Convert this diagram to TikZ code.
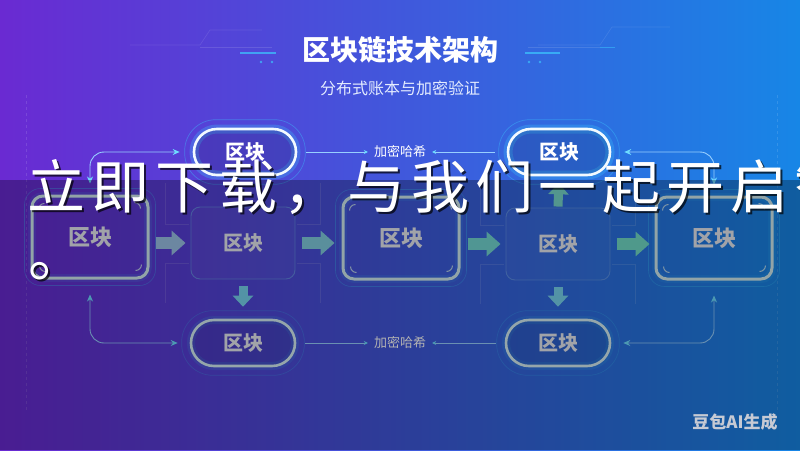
\documentclass[tikz,border=0pt]{standalone}
\usepackage{fontspec}
\setmainfont{Noto Sans CJK SC}
\usetikzlibrary{arrows.meta,calc}
\definecolor{bgL}{HTML}{6A2AD2}
\definecolor{bgM}{HTML}{3A58DE}
\definecolor{bgR}{HTML}{1786E6}
\definecolor{hiB}{HTML}{D2ECF0}
\definecolor{boxT}{HTML}{E8EAF2}
\definecolor{plainB}{HTML}{6A9CE8}
\definecolor{pillT}{HTML}{F2FAFF}
\definecolor{pillB}{HTML}{D6EEF4}
\definecolor{glowC}{HTML}{3CC8FF}
\definecolor{connC}{HTML}{98CFFF}
\definecolor{tipC}{HTML}{6EDCFF}
\definecolor{aA}{HTML}{9CC2E8}
\definecolor{aB}{HTML}{82CEE0}
\definecolor{aC}{HTML}{74D8D4}
\definecolor{aD}{HTML}{72DCC8}
\definecolor{aDn}{HTML}{78D4EE}
\definecolor{aUp}{HTML}{78D8CC}
\definecolor{wmC}{HTML}{C6CAD4}
\definecolor{subC}{HTML}{E4ECFF}
\newcommand\cornerticks[1]{%
  \draw[tick] ($(#1.north west)+(8pt,-15pt)$) arc[start angle=180,end angle=90,radius=6pt];
  \draw[tick] ($(#1.north east)+(-15pt,-8pt)$) arc[start angle=90,end angle=0,radius=6pt];
  \draw[tick] ($(#1.south east)+(-8pt,15pt)$) arc[start angle=0,end angle=-90,radius=6pt];
  \draw[tick] ($(#1.south west)+(15pt,8pt)$) arc[start angle=270,end angle=180,radius=6pt];
  \draw[ringst] ($(#1.north west)+(-6pt,6pt)$) rectangle ($(#1.south east)+(6pt,-6pt)$);}
\newcommand\framelines[1]{%
  \draw[faint] ($(#1.north west)+(-25pt,24pt)$) -- ($(#1.north west)+(-25pt,-18pt)$) -- ($(#1.north west)+(-2pt,-18pt)$);
  \draw[faint] ($(#1.south west)+(-25pt,-24pt)$) -- ($(#1.south west)+(-25pt,16pt)$) -- ($(#1.south west)+(-2pt,16pt)$);
  \draw[faint] ($(#1.north east)+(25pt,24pt)$) -- ($(#1.north east)+(25pt,-18pt)$) -- ($(#1.north east)+(2pt,-18pt)$);
  \draw[faint] ($(#1.south east)+(25pt,-24pt)$) -- ($(#1.south east)+(25pt,16pt)$) -- ($(#1.south east)+(2pt,16pt)$);}
\tikzset{
  hib/.style={draw=hiB, line width=3pt, rounded corners=11pt, minimum width=116pt, minimum height=82pt,
    text=boxT, font=\fontsize{22}{22}\selectfont\bfseries,
    preaction={draw=glowC, line width=8pt, draw opacity=0.12}},
  plainbox/.style={draw=plainB, draw opacity=0.7, line width=0.9pt, rounded corners=9pt, minimum width=104pt,
    minimum height=72pt, fill=white, fill opacity=0.03, text opacity=1, text=boxT, font=\fontsize{20}{20}\selectfont\bfseries},
  pilltop/.style={draw=pillT, line width=2.6pt, rounded corners=23pt, minimum width=102pt, minimum height=46pt,
    fill=black, fill opacity=0.12, text opacity=1, text=white, font=\fontsize{20}{20}\selectfont\bfseries,
    preaction={draw=glowC, line width=9pt, draw opacity=0.28}},
  pillbot/.style={draw=pillB, line width=2.6pt, rounded corners=23pt, minimum width=104pt, minimum height=46pt,
    fill=black, fill opacity=0.08, text opacity=1, text=boxT, font=\fontsize{20}{20}\selectfont\bfseries,
    preaction={draw=glowC, line width=8pt, draw opacity=0.15}},
  tick/.style={draw=hiB, line width=1pt, draw opacity=0.8},
  ringst/.style={draw=glowC, line width=0.6pt, draw opacity=0.35, rounded corners=16pt},
  pring/.style={draw=glowC, line width=0.7pt, draw opacity=0.4, rounded corners=31pt},
  faint/.style={draw=white, draw opacity=0.12, line width=0.6pt},
  conn/.style={draw=connC, line width=0.9pt, {Stealth[length=7pt,width=6pt,color=tipC]}-{Stealth[length=7pt,width=6pt,color=tipC]}},
  lconn/.style={draw=connC, line width=0.9pt, -{Stealth[length=4pt,width=4pt,color=tipC]}},
  lbl/.style={text=white, font=\fontsize{13}{13}\selectfont, inner sep=4pt},
  blk/.style={line width=12pt, -{Triangle[width=24pt,length=14pt]}},
  vblk/.style={line width=9pt, -{Triangle[width=20pt,length=11pt]}},
  bigtxt/.style={font=\fontsize{58}{58}\selectfont\addfontfeature{LetterSpace=10.3}, inner sep=0pt, anchor=base west},
}
\begin{document}
\begin{tikzpicture}[x=1pt,y=-1pt]
\clip (0,0) rectangle (800,450);
% background
\shade[left color=bgL, middle color=bgM, right color=bgR] (0,0) rectangle (800,450);
% faint vertical guides
\draw[faint, dashed] (26,95) -- (26,410);
\draw[faint, dashed] (777,95) -- (777,410);
% title decorations
\draw[white, opacity=0.1, line width=0.6pt] (130,45) -- (200,45) -- (210,30) -- (262,30);
\draw[white, opacity=0.12, line width=0.6pt] (200,47) -- (272,47);
\draw[glowC, opacity=0.7, line width=1.2pt] (240,53) -- (276,53);
\fill[glowC, opacity=0.7] (261,62) circle[radius=1.4pt] (272,62) circle[radius=1.4pt];
\draw[white, opacity=0.1, line width=0.6pt] (670,27) -- (612,27) -- (600,45) -- (538,45);
\draw[white, opacity=0.12, line width=0.6pt] (528,47) -- (600,47);
\draw[glowC, opacity=0.7, line width=1.2pt] (525,53) -- (560,53);
\draw[glowC, opacity=0.5, line width=1pt] (600,47) -- (615,47);
\fill[glowC, opacity=0.7] (529,62) circle[radius=1.4pt] (540,62) circle[radius=1.4pt];
% title
\node[text=white, font=\fontsize{28}{28}\selectfont\bfseries] (title) at (400,50) {区块链技术架构};
\node[text=subC, font=\fontsize{16}{16}\selectfont] (sub) at (400,88) {分布式账本与加密验证};
% nodes
\node[pilltop] (p1) at (245,152) {区块};
\node[pilltop] (p2) at (559,152) {区块};
\node[hib] (b1) at (90,237) {区块};
\node[plainbox] (b2) at (243,243) {区块};
\node[hib] (b3) at (401,238) {区块};
\node[plainbox] (b4) at (558,244) {区块};
\node[hib] (b5) at (714,238) {区块};
\node[pillbot] (p3) at (243,343) {区块};
\node[pillbot] (p4) at (558,343) {区块};
\node[lbl] (t1) at (400,152) {加密哈希};
\node[lbl] (t2) at (400,343) {加密哈希};
% rings and decorations
\draw[pring] ($(p1.north west)+(-8pt,8pt)$) rectangle ($(p1.south east)+(8pt,-8pt)$);
\draw[pring] ($(p2.north west)+(-8pt,8pt)$) rectangle ($(p2.south east)+(8pt,-8pt)$);
\draw[pring, draw opacity=0.25] ($(p3.north west)+(-8pt,8pt)$) rectangle ($(p3.south east)+(8pt,-8pt)$);
\draw[pring, draw opacity=0.25] ($(p4.north west)+(-8pt,8pt)$) rectangle ($(p4.south east)+(8pt,-8pt)$);
\cornerticks{b1}
\cornerticks{b3}
\cornerticks{b5}
\framelines{b2}
\framelines{b4}
% thin connectors
\draw[conn, rounded corners=14pt, shorten <=11pt, shorten >=13pt] (b1.north) |- (p1.west);
\draw[conn, rounded corners=14pt, shorten <=13pt, shorten >=11pt] (p2.east) -| (b5.north);
\draw[conn, rounded corners=14pt, shorten <=15pt, shorten >=12pt] (b1.south) |- (p3.west);
\draw[conn, rounded corners=14pt, shorten <=12pt, shorten >=15pt] (p4.east) -| (b5.south);
\draw[lconn, shorten <=9pt, shorten >=2pt] (p1.east) -- (t1.west);
\draw[lconn, shorten <=12pt, shorten >=2pt] (p2.west) -- (t1.east);
\draw[lconn, shorten <=9pt, shorten >=2pt] (p3.east) -- (t2.west);
\draw[lconn, shorten <=9pt, shorten >=2pt] (p4.west) -- (t2.east);
% block arrows
\draw[blk, draw=aA, fill=aA, shorten <=6pt, shorten >=5pt] (b1.east |- b2.center) -- (b2.west);
\draw[blk, draw=aB, fill=aB, shorten <=7pt, shorten >=7pt] (b2.east) -- (b3.west |- b2.center);
\draw[blk, draw=aC, fill=aC, shorten <=7pt, shorten >=5pt] (b3.east |- b4.center) -- (b4.west);
\draw[blk, draw=aD, fill=aD, shorten <=7pt, shorten >=5pt] (b4.east) -- (b5.west |- b4.center);
\draw[vblk, draw=aDn, fill=aDn, shorten <=7pt, shorten >=12pt] (b2.south) -- (p3.north);
\draw[vblk, draw=aDn, fill=aDn, shorten <=7pt, shorten >=12pt] (b4.south) -- (p4.north);
\draw[vblk, draw=aUp, fill=aUp, shorten <=1pt, shorten >=7pt] (b4.north) -- (p2.south);
% overlay band
\fill[black, opacity=0.3] (0,180) rectangle (800,450);
% watermark
\node[text=wmC, font=\fontsize{17}{17}\selectfont\bfseries] (wm) at (735,422) {豆包AI生成};
% big overlay text
\node[bigtxt, text=black, opacity=0.7] (s1) at (29,210) {立即下载，与我们一起开启智};
\node[bigtxt, text=white] (m1) at (27,208) {立即下载，与我们一起开启智};
\node[bigtxt, text=black, opacity=0.7] (s2) at (30,278) {。};
\node[bigtxt, text=white] (m2) at (28,276) {。};
\end{tikzpicture}
\end{document}
